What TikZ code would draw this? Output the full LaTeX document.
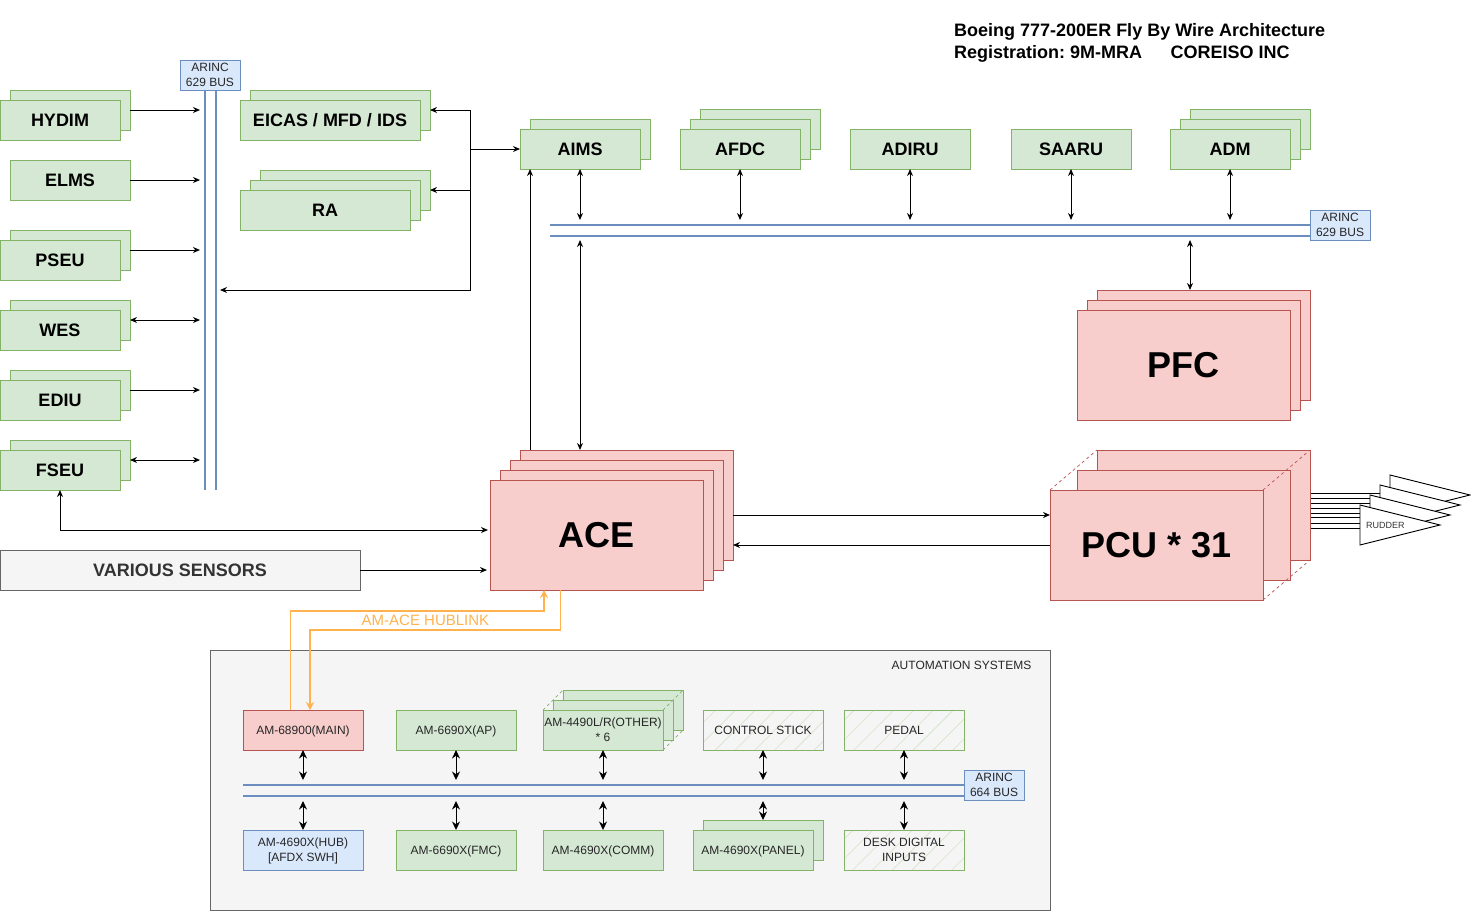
\documentclass[tikz,border=0pt]{standalone}
\usepackage{fontspec}
\setmainfont{Liberation Sans}
\usetikzlibrary{arrows.meta,patterns.meta}
\definecolor{grnfill}{HTML}{D5E8D4}
\definecolor{grnline}{HTML}{82B366}
\definecolor{redfill}{HTML}{F8CECC}
\definecolor{redline}{HTML}{B85450}
\definecolor{bluefill}{HTML}{DAE8FC}
\definecolor{blueline}{HTML}{6C8EBF}
\definecolor{grayfill}{HTML}{F5F5F5}
\definecolor{grayline}{HTML}{666666}
\definecolor{hublink}{HTML}{FFB24D}
\frenchspacing
\tikzset{
    basebox/.style={rectangle,anchor=north west,inner sep=0pt,outer sep=0pt,line width=.9pt,align=center,text=black!85,text depth=0pt,font=\fontsize{12}{15}\selectfont},
    twoline/.style={text depth=-2pt},
    grnbox/.style={basebox,draw=grnline,fill=grnfill,minimum width=120pt,minimum height=40pt},
    redbox/.style={basebox,draw=redline,fill=redfill,minimum width=213pt,minimum height=110pt},
    buslabel/.style={basebox,twoline,draw=blueline,fill=bluefill,minimum width=60pt,minimum height=30pt},
    hatchbox/.style={basebox,draw=grnline,minimum width=120pt,minimum height=40pt,pattern={Lines[angle=45,distance=14pt,line width=.6pt]},pattern color=grnline!35},
    boldtext/.style={font=\fontsize{18}{22}\selectfont\bfseries,text=black},
    hugetext/.style={font=\fontsize{36}{40}\selectfont\bfseries,text=black},
    busline/.style={draw=blueline,line width=1.7pt},
    conn/.style={line width=1pt,-{Stealth[length=7pt,width=6pt]}},
    dbl/.style={line width=1pt,{Stealth[length=7pt,width=6pt]}-{Stealth[length=7pt,width=6pt]}},
    dblbig/.style={line width=1pt,{Stealth[length=8.5pt,width=8pt]}-{Stealth[length=8.5pt,width=8pt]}},
    link/.style={draw=hublink,line width=1.1pt,-{Stealth[length=8pt,width=8pt]}},
    wing/.style={draw=black,fill=white,line width=.9pt}
}
\begin{document}
\begin{tikzpicture}[x=1pt,y=-1pt]
    \useasboundingbox (0,0) rectangle (1471,911);
    \node[anchor=north west,inner sep=0pt,align=left,boldtext] (title) at (954,23) {Boeing 777-200ER Fly By Wire Architecture\\Registration: 9M-MRA\hspace{28.5pt}COREISO INC};

    \coordinate (busleft) at (200,0);
    \coordinate (busright) at (220,0);
    \coordinate (busup) at (0,220);
    \coordinate (busdown) at (0,240);
    \coordinate (feed) at (470,0);

    \node[grnbox] (hydimb) at (10,90) {};
    \node[grnbox,boldtext] (hydim) at (0,100) {HYDIM};
    \node[grnbox,boldtext] (elms) at (10,160) {ELMS};
    \node[grnbox] (pseub) at (10,230) {};
    \node[grnbox,boldtext] (pseu) at (0,240) {PSEU};
    \node[grnbox] (wesb) at (10,300) {};
    \node[grnbox,boldtext] (wes) at (0,310) {WES};
    \node[grnbox] (ediub) at (10,370) {};
    \node[grnbox,boldtext] (ediu) at (0,380) {EDIU};
    \node[grnbox] (fseub) at (10,440) {};
    \node[grnbox,boldtext] (fseu) at (0,450) {FSEU};

    \node[buslabel] (arincl) at (180,60) {ARINC\\629 BUS};
    \coordinate (arincla) at (205.3,490);
    \coordinate (arinclb) at (215.8,490);
    \draw[busline] (arincla |- arincl.south) -- (arincla);
    \draw[busline] (arinclb |- arincl.south) -- (arinclb);

    \node[grnbox,minimum width=180pt] (eicasb) at (250,90) {};
    \node[grnbox,minimum width=180pt,boldtext] (eicas) at (240,100) {EICAS / MFD / IDS};
    \node[grnbox,minimum width=170pt] (rac) at (260,170) {};
    \node[grnbox,minimum width=170pt] (rab) at (250,180) {};
    \node[grnbox,minimum width=170pt,boldtext] (ra) at (240,190) {RA};

    \node[grnbox] (aimsb) at (530,119) {};
    \node[grnbox,boldtext] (aims) at (520,129) {AIMS};
    \node[grnbox] (afdcc) at (700,109) {};
    \node[grnbox] (afdcb) at (690,119) {};
    \node[grnbox,boldtext] (afdc) at (680,129) {AFDC};
    \node[grnbox,boldtext] (adiru) at (850,129) {ADIRU};
    \node[grnbox,boldtext] (saaru) at (1011,129) {SAARU};
    \node[grnbox] (admc) at (1190,109) {};
    \node[grnbox] (admb) at (1180,119) {};
    \node[grnbox,boldtext] (adm) at (1170,129) {ADM};

    \node[buslabel] (arincr) at (1310,210) {ARINC\\629 BUS};
    \coordinate (arincra) at (550,225);
    \coordinate (arincrb) at (550,235.7);
    \draw[busline] (arincra) -- (arincra -| arincr.west);
    \draw[busline] (arincrb) -- (arincrb -| arincr.west);

    \node[redbox] (pfcc) at (1097,290) {};
    \node[redbox] (pfcb) at (1087,300) {};
    \node[redbox,hugetext] (pfc) at (1077,310) {PFC};

    \node[redbox] (aced) at (520,450) {};
    \node[redbox] (acec) at (510,460) {};
    \node[redbox] (aceb) at (500,470) {};
    \node[redbox,hugetext] (ace) at (490,480) {ACE};

    \node[basebox,draw=grayline,fill=grayfill,minimum width=360pt,minimum height=40pt,boldtext,text=black!80] (sensors) at (0,550) {VARIOUS SENSORS};

    \coordinate (rudstop) at (1392,0);
    \foreach \yy in {493,498,503,508,513,517,523,528}
        \draw[line width=.9pt] (1310,\yy) -- (rudstop |- 0,\yy);

    \node[redbox] (pcuc) at (1097,450) {};
    \node[redbox] (pcub) at (1077,470) {};
    \node[redbox,hugetext] (pcu) at (1050,490) {PCU * 31};
    \draw[redline,dashed,line width=.7pt] (pcu.north west) -- (pcuc.north west)
        (pcu.north east) -- (pcuc.north east)
        (pcu.south east) -- (pcuc.south east);

    \filldraw[wing] (1390,475) -- (1470,495) -- (1390,515) -- cycle;
    \filldraw[wing] (1380,485) -- (1460,505) -- (1380,525) -- cycle;
    \filldraw[wing] (1370,495) -- (1450,515) -- (1370,535) -- cycle;
    \filldraw[wing] (1360,505) -- (1440,525) -- (1360,545) -- cycle;
    \node[anchor=west,inner sep=0pt,font=\fontsize{9}{10}\selectfont,text=black!80] (rudder) at (1366,525.5) {RUDDER};

    \draw[conn] (hydimb.east) -- (hydimb.east -| busleft);
    \draw[conn] (elms.east) -- (elms.east -| busleft);
    \draw[conn] (pseub.east) -- (pseub.east -| busleft);
    \draw[dbl] (wesb.east) -- (wesb.east -| busleft);
    \draw[conn] (ediub.east) -- (ediub.east -| busleft);
    \draw[dbl] (fseub.east) -- (fseub.east -| busleft);

    \draw[conn] (feed |- eicasb.east) -- (eicasb.east);
    \draw[conn] (feed |- rac.east) -- (rac.east);
    \draw[conn] (feed |- eicasb.east) -- (feed |- 0,290) -- (busright |- 0,290);
    \draw[conn] (feed |- aims.west) -- (aims.west);

    \draw[dbl] (aims.south) -- (aims.south |- busup);
    \draw[dbl] (afdc.south) -- (afdc.south |- busup);
    \draw[dbl] (adiru.south) -- (adiru.south |- busup);
    \draw[dbl] (saaru.south) -- (saaru.south |- busup);
    \draw[dbl] (adm.south) -- (adm.south |- busup);
    \draw[dbl] (aims.south |- busdown) -- (aims.south |- aced.north);
    \draw[conn] ([xshift=10pt]aced.north west) -- ([xshift=10pt]aims.south west);
    \draw[dbl] ([xshift=93pt]pfcc.north west |- busdown) -- ([xshift=93pt]pfcc.north west);

    \draw[dbl] (fseu.south) |- ([shift={(-2pt,5pt)}]ace.west);
    \draw[conn] (sensors.east) -- ([xshift=-3pt]ace.west |- sensors.east);
    \draw[conn] ([yshift=-10pt]aced.east) -- ([yshift=30pt]pcu.west);
    \draw[conn] (pcu.west) -- ([yshift=-40pt]aced.east);

    \node[basebox,draw=grayline,fill=grayfill,minimum width=840pt,minimum height=260pt] (auto) at (210,650) {};
    \node[anchor=east,inner sep=0pt,font=\fontsize{12}{15}\selectfont,text=black!85] (autolabel) at (1031.5,665) {AUTOMATION SYSTEMS};

    \node[grnbox,draw=redline,fill=redfill] (main) at (243,710) {AM-68900(MAIN)};
    \node[grnbox] (ap) at (396,710) {AM-6690X(AP)};
    \node[grnbox] (otherc) at (563,690) {};
    \node[grnbox] (otherb) at (553,700) {};
    \node[grnbox,twoline] (other) at (543,710) {AM-4490L/R(OTHER)\\* 6};
    \draw[grnline,dashed,line width=.7pt] (other.north west) -- (otherc.north west)
        (other.north east) -- (otherc.north east)
        (other.south east) -- (otherc.south east);
    \node[hatchbox] (stick) at (703,710) {CONTROL STICK};
    \node[hatchbox] (pedal) at (844,710) {PEDAL};

    \node[grnbox,twoline,draw=blueline,fill=bluefill] (hub) at (243,830) {AM-4690X(HUB)\\{}[AFDX SWH]};
    \node[grnbox] (fmc) at (396,830) {AM-6690X(FMC)};
    \node[grnbox] (comm) at (543,830) {AM-4690X(COMM)};
    \node[grnbox] (panelb) at (703,820) {};
    \node[grnbox] (panel) at (693,830) {AM-4690X(PANEL)};
    \node[hatchbox,twoline] (desk) at (844,830) {DESK DIGITAL\\INPUTS};

    \node[buslabel] (arincb) at (964,770) {ARINC\\664 BUS};
    \coordinate (arincba) at (243,785);
    \coordinate (arincbb) at (243,795.7);
    \draw[busline] (arincba) -- (arincba -| arincb.west);
    \draw[busline] (arincbb) -- (arincbb -| arincb.west);

    \coordinate (lowup) at (0,780);
    \coordinate (lowdown) at (0,801);
    \draw[dblbig] (main.south) -- (main.south |- lowup);
    \draw[dblbig] (ap.south) -- (ap.south |- lowup);
    \draw[dblbig] (other.south) -- (other.south |- lowup);
    \draw[dblbig] (stick.south) -- (stick.south |- lowup);
    \draw[dblbig] (pedal.south) -- (pedal.south |- lowup);
    \draw[dblbig] (hub.north |- lowdown) -- (hub.north);
    \draw[dblbig] (fmc.north |- lowdown) -- (fmc.north);
    \draw[dblbig] (comm.north |- lowdown) -- (comm.north);
    \draw[dblbig] (panelb.north |- lowdown) -- (panelb.north);
    \draw[dblbig] (desk.north |- lowdown) -- (desk.north);

    \draw[link] ([xshift=47.6pt]main.north west) -- ([xshift=47.6pt]main.north west |- 0,611) -- (544,611) -- (544,590);
    \draw[link] (560.5,590) -- (560.5,630) -- (310,630) -- (310,710);
    \node[inner sep=0pt,font=\fontsize{15}{18}\selectfont,text=hublink] (hublabel) at (425.5,620.5) {AM-ACE HUBLINK};
\end{tikzpicture}
\end{document}
